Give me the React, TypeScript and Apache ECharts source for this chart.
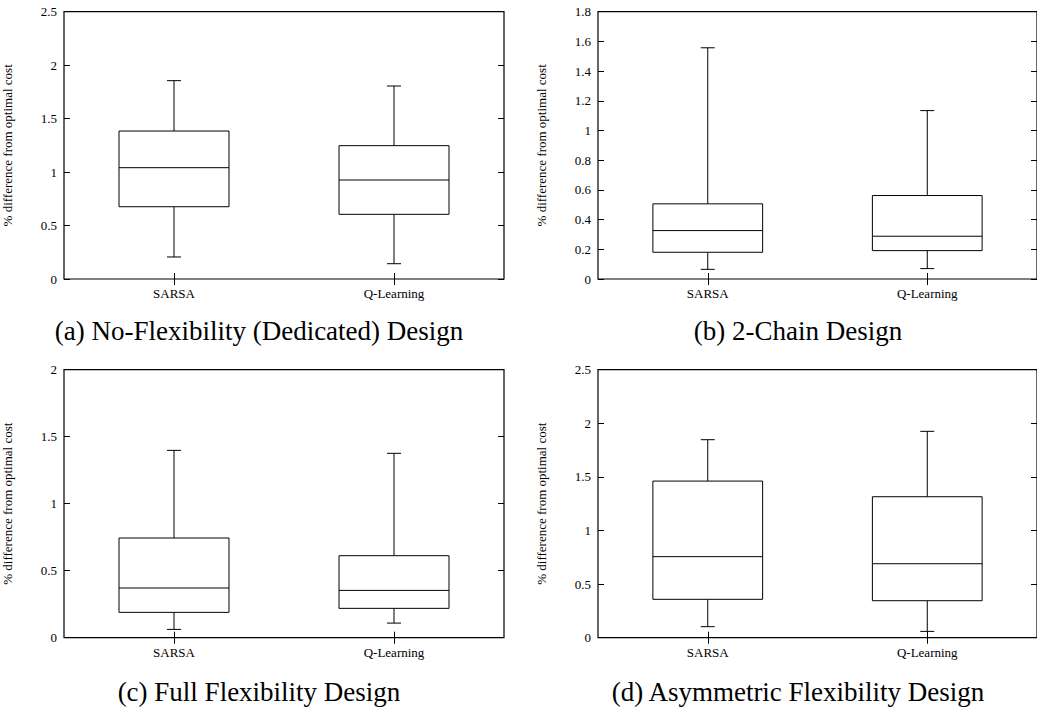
import React, { useEffect, useRef } from "react";
import * as echarts from "echarts";

const categories = ["SARSA", "Q-Learning"];

// [min, Q1, median, Q3, max]
const panelA = [
  [0.206, 0.676, 1.041, 1.384, 1.855],
  [0.143, 0.605, 0.926, 1.247, 1.805],
];
const panelB = [
  [0.065, 0.18, 0.326, 0.506, 1.557],
  [0.07, 0.191, 0.288, 0.562, 1.134],
];
const panelC = [
  [0.062, 0.189, 0.371, 0.744, 1.398],
  [0.109, 0.219, 0.353, 0.612, 1.376],
];
const panelD = [
  [0.103, 0.358, 0.756, 1.461, 1.847],
  [0.059, 0.345, 0.69, 1.315, 1.925],
];

const yMax = [2.5, 1.8, 2, 2.5];
const yStep = [0.5, 0.2, 0.5, 0.5];
const captions = [
  "(a) No-Flexibility (Dedicated) Design",
  "(b) 2-Chain Design",
  "(c) Full Flexibility Design",
  "(d) Asymmetric Flexibility Design",
];
const yName = "% difference from optimal cost";

const FONT = "Liberation Serif";

export default function App() {
  const ref = useRef<HTMLDivElement>(null);
  useEffect(() => {
    if (!ref.current) return;
    const chart = echarts.init(ref.current, null, { renderer: "svg" });
    const panels = [panelA, panelB, panelC, panelD];
    const grids = [
      { left: 64, top: 11.7, width: 440, height: 267.3 },
      { left: 598, top: 11.7, width: 440, height: 267.3 },
      { left: 64, top: 369.7, width: 440, height: 268 },
      { left: 598, top: 369.7, width: 440, height: 268 },
    ];
    const xAxis: any[] = [];
    const yAxis: any[] = [];
    const series: any[] = [];
    const tick = { show: true, inside: true, length: 6, lineStyle: { color: "#000", width: 1 } };
    const txt = { color: "#000", fontFamily: FONT, fontSize: 13, fontWeight: "normal" };
    panels.forEach((p, i) => {
      xAxis.push({
        type: "category",
        gridIndex: i,
        data: categories,
        position: "bottom",
        boundaryGap: true,
        axisLine: { show: false },
        axisTick: { ...tick, alignWithLabel: true },
        axisLabel: { ...txt, margin: 8 },
        splitLine: { show: false },
      });
      xAxis.push({
        type: "category",
        gridIndex: i,
        data: categories,
        position: "top",
        boundaryGap: true,
        axisLine: { show: false },
        axisTick: { ...tick, alignWithLabel: true },
        axisLabel: { show: false },
        splitLine: { show: false },
      });
      yAxis.push({
        type: "value",
        gridIndex: i,
        min: 0,
        max: yMax[i],
        interval: yStep[i],
        position: "left",
        name: yName,
        nameLocation: "middle",
        nameRotate: 90,
        nameGap: 50,
        nameTextStyle: { ...txt },
        axisLine: { show: false },
        axisTick: tick,
        axisLabel: { ...txt, margin: 7 },
        splitLine: { show: false },
      });
      yAxis.push({
        type: "value",
        gridIndex: i,
        min: 0,
        max: yMax[i],
        interval: yStep[i],
        position: "right",
        axisLine: { show: false },
        axisTick: tick,
        axisLabel: { show: false },
        splitLine: { show: false },
      });
      series.push({
        type: "custom",
        xAxisIndex: i * 2,
        yAxisIndex: i * 2,
        data: p.map((v, k) => [k, ...v]),
        renderItem: (params: any, api: any) => {
          const x = api.value(0);
          const mn = api.coord([x, api.value(1)]);
          const q1 = api.coord([x, api.value(2)]);
          const md = api.coord([x, api.value(3)]);
          const q3 = api.coord([x, api.value(4)]);
          const mx = api.coord([x, api.value(5)]);
          const bw = api.size([1, 0])[0] * 0.5;
          const cx = mn[0];
          const cap = 7;
          const ls = { stroke: "#000", lineWidth: 1, fill: "none" };
          return {
            type: "group",
            children: [
              { type: "line", shape: { x1: cx, y1: q3[1], x2: cx, y2: mx[1] }, style: ls },
              { type: "line", shape: { x1: cx - cap, y1: mx[1], x2: cx + cap, y2: mx[1] }, style: ls },
              { type: "line", shape: { x1: cx, y1: q1[1], x2: cx, y2: mn[1] }, style: ls },
              { type: "line", shape: { x1: cx - cap, y1: mn[1], x2: cx + cap, y2: mn[1] }, style: ls },
              {
                type: "rect",
                shape: { x: cx - bw / 2, y: q3[1], width: bw, height: q1[1] - q3[1] },
                style: { stroke: "#000", lineWidth: 1, fill: "#fff" },
              },
              { type: "line", shape: { x1: cx - bw / 2, y1: md[1], x2: cx + bw / 2, y2: md[1] }, style: ls },
            ],
          };
        },
      });
    });
    const capPos = [
      [259, 331],
      [798, 331],
      [259, 692],
      [798, 692],
    ];
    const graphic = captions.map((t, i) => ({
      type: "text",
      x: capPos[i][0],
      y: capPos[i][1],
      style: {
        text: t,
        fill: "#000",
        fontFamily: FONT,
        fontSize: 27,
        textAlign: "center",
        textVerticalAlign: "middle",
      },
    }));
    chart.setOption({
      animation: false,
      backgroundColor: "#fff",
      textStyle: { fontFamily: FONT, color: "#000" },
      grid: grids.map((g) => ({ ...g, show: true, borderColor: "#000", borderWidth: 1.2, backgroundColor: "transparent" })),
      xAxis,
      yAxis,
      series,
      graphic,
    });
    return () => chart.dispose();
  }, []);
  return (
    <div
      ref={ref}
      style={{ position: "fixed", left: 0, top: 0, width: 1037, height: 713, background: "#fff" }}
    />
  );
}
